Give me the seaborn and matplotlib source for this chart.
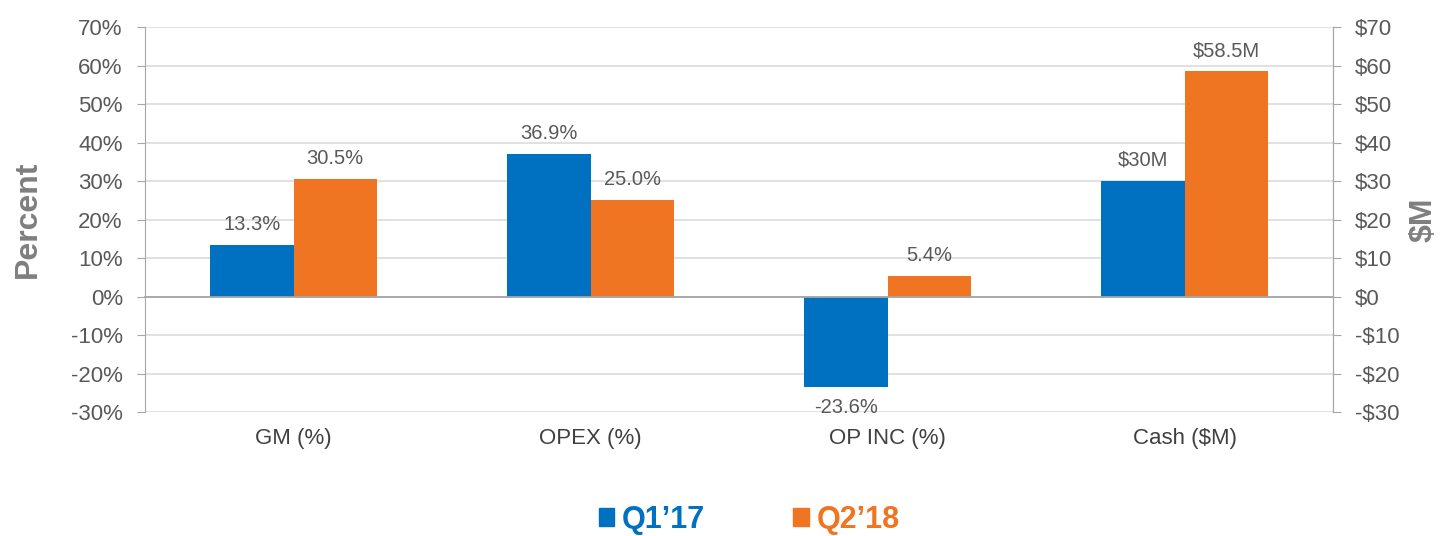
import seaborn as sns
import matplotlib.pyplot as plt
import matplotlib.ticker as mticker
import matplotlib.patches as mpatches
import pandas as pd

# data
metrics = ["GM (%)", "OPEX (%)", "OP INC (%)", "Cash ($M)"]
q1_17 = [13.3, 36.9, -23.6, 30.0]
q2_18 = [30.5, 25.0, 5.4, 58.5]
q1_labels = ["13.3%", "36.9%", "-23.6%", "$30M"]
q2_labels = ["30.5%", "25.0%", "5.4%", "$58.5M"]
periods = ["Q1\u201917", "Q2\u201918"]

blue = "#0070C0"
orange = "#F07522"
gray_txt = "#595959"
axis_gray = "#A6A6A6"

df = pd.DataFrame({
    "metric": metrics * 2,
    "value": q1_17 + q2_18,
    "period": [periods[0]] * 4 + [periods[1]] * 4,
})

sns.set_style("white")
plt.rcParams["font.family"] = ["Liberation Sans", "DejaVu Sans"]

fig = plt.figure(figsize=(14.46, 5.36), dpi=100)
ax = fig.add_axes([0.1003, 0.2313, 0.8216, 0.7183])

sns.barplot(data=df, x="metric", y="value", hue="period",
            palette=[blue, orange], width=0.56, saturation=1,
            linewidth=0, ax=ax, legend=False)

ax.set_ylim(-30, 70)
ax.set_xlim(-0.5, 3.5)
ax.yaxis.set_major_locator(mticker.MultipleLocator(10))
ax.yaxis.set_major_formatter(mticker.FuncFormatter(lambda v, p: f"{v:.0f}%"))
ax.grid(axis="y", color="#D9D9D9", linewidth=1.1)
ax.set_axisbelow(True)

# value labels
for cont, labs in zip(ax.containers, [q1_labels, q2_labels]):
    ax.bar_label(cont, labels=labs, padding=8, fontsize=14.5, color=gray_txt)

# spines
ax.spines["top"].set_visible(False)
for s in ["left", "right"]:
    ax.spines[s].set_color(axis_gray)
ax.spines["bottom"].set_position(("data", 0))
ax.spines["bottom"].set_color(axis_gray)
ax.spines["bottom"].set_linewidth(1.3)

# category ticks on the zero line at group boundaries
ax.set_xticks([0.5, 1.5, 2.5], minor=True)
ax.tick_params(axis="x", which="minor", length=6, color=axis_gray, direction="out")
ax.tick_params(axis="x", which="major", length=0, pad=95, labelsize=16, labelcolor="#404040")
ax.tick_params(axis="y", left=True, length=6, pad=10, color=axis_gray,
               labelsize=16, labelcolor=gray_txt)
ax.set_xlabel("")
ax.set_ylabel("Percent", fontsize=23, fontweight="bold", color="#7F7F7F", labelpad=20)

# right axis for $M
ax2 = ax.twinx()
ax2.set_ylim(-30, 70)
ax2.yaxis.set_major_locator(mticker.MultipleLocator(10))
ax2.yaxis.set_major_formatter(mticker.FuncFormatter(
    lambda v, p: f"-${abs(v):.0f}" if v < 0 else f"${v:.0f}"))
ax2.tick_params(axis="y", right=True, length=6, pad=10, color=axis_gray,
                labelsize=16, labelcolor=gray_txt)
for s in ["top", "bottom", "left"]:
    ax2.spines[s].set_visible(False)
ax2.spines["right"].set_color(axis_gray)
ax2.set_ylabel("$M", fontsize=23, fontweight="bold", color="#7F7F7F", rotation=90, labelpad=6)

# legend
handles = [mpatches.Patch(color=blue, label=periods[0]),
           mpatches.Patch(color=orange, label=periods[1])]
leg = fig.legend(handles=handles, loc="center", bbox_to_anchor=(0.518, 0.03), ncol=2,
                 frameon=False, handlelength=0.5, handleheight=0.5, handletextpad=0.25,
                 columnspacing=2.9, prop={"size": 22, "weight": "bold"})
for t, c in zip(leg.get_texts(), [blue, orange]):
    t.set_color(c)

fig.savefig("out.png", dpi=100)
